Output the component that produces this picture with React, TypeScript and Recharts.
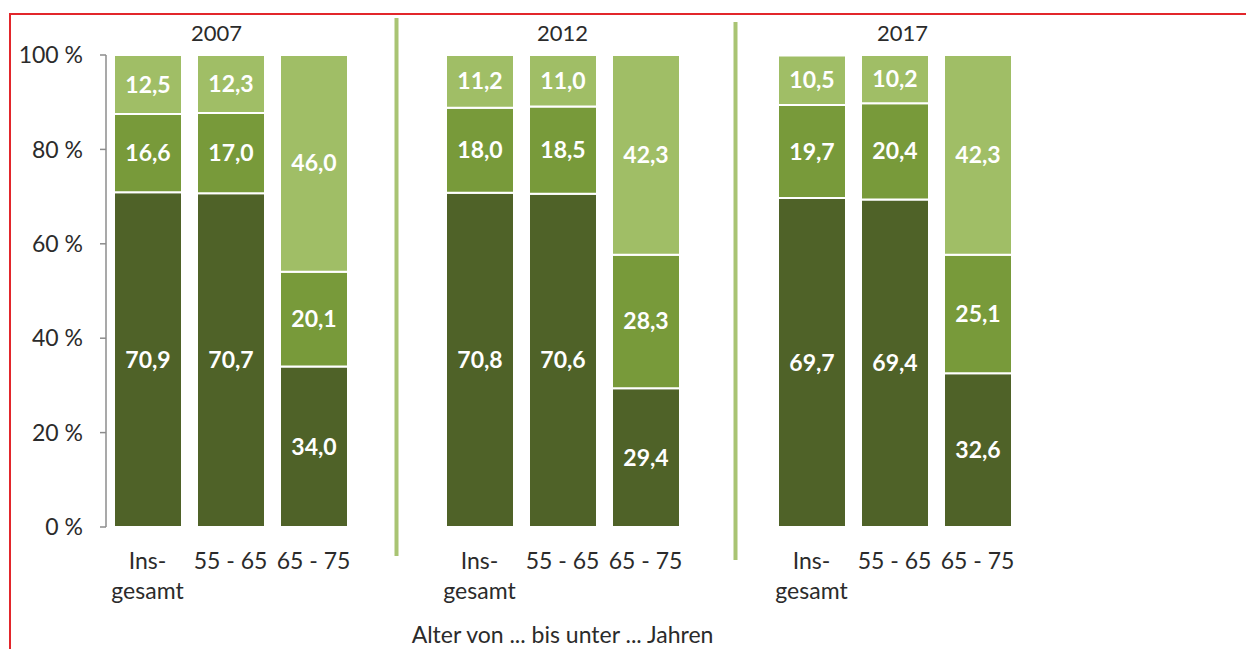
import React from 'react';
import { BarChart, Bar, XAxis, YAxis, LabelList, ReferenceLine } from 'recharts';

const years = ['2007', '2012', '2017'];
const ageGroups = ['Ins-\ngesamt', '55 - 65', '65 - 75'];
// values per year, per age group
const vollzeit = [
  [70.9, 70.7, 34.0],
  [70.8, 70.6, 29.4],
  [69.7, 69.4, 32.6],
];
const teilzeit = [
  [16.6, 17.0, 20.1],
  [18.0, 18.5, 28.3],
  [19.7, 20.4, 25.1],
];
const geringfuegig = [
  [12.5, 12.3, 46.0],
  [11.2, 11.0, 42.3],
  [10.5, 10.2, 42.3],
];
const seriesNames = {
  vollzeit: ['Vollzeit'],
  teilzeit: ['Teilzeit'],
  geringfuegig: ['geringfügige', 'Beschäftigung'],
};
const yTicks = [0, 20, 40, 60, 80, 100];
const xTitle = 'Alter von ... bis unter ... Jahren';

const COLORS = {
  vollzeit: '#4f6228',
  teilzeit: '#789a3a',
  geringfuegig: '#a0be66',
  sep: '#a9c473',
  text: '#2b2b2b',
  axis: '#8c8c8c',
  border: '#e2262b',
};
const FONT = 'Lato, "Open Sans", sans-serif';
const FS = 23;
const yearLabelDx = [-14, 0, 8];

type Row = {
  key: string;
  age: string;
  year: string;
  yearIdx: number;
  vollzeit: number | null;
  teilzeit: number | null;
  geringfuegig: number | null;
};

const rows: Row[] = [];
years.forEach((yr, g) => {
  ageGroups.forEach((age, i) => {
    rows.push({
      key: `${yr}-${i}`,
      age,
      year: i === 1 ? yr : '',
      yearIdx: g,
      vollzeit: vollzeit[g][i],
      teilzeit: teilzeit[g][i],
      geringfuegig: geringfuegig[g][i],
    });
  });
  if (g < years.length - 1) {
    rows.push({ key: `sep-${g}`, age: '', year: '', yearIdx: g, vollzeit: null, teilzeit: null, geringfuegig: null });
  }
});

const fmt = (v: number) => v.toFixed(1).replace('.', ',');

const BottomTick = (props: any) => {
  const { x, y, payload } = props;
  const row = rows.find((r) => r.key === payload.value);
  if (!row || !row.age) return null;
  const lines = row.age.split('\n');
  return (
    <text x={x} y={y + 42} textAnchor="middle" fill={COLORS.text} fontSize={FS} fontFamily={FONT}>
      {lines.map((l, i) => (
        <tspan key={i} x={x} dy={i === 0 ? 0 : 30}>
          {l}
        </tspan>
      ))}
    </text>
  );
};

const TopTick = (props: any) => {
  const { x, y, payload } = props;
  const row = rows.find((r) => r.key === payload.value);
  if (!row || !row.year) return null;
  return (
    <text x={x + yearLabelDx[row.yearIdx]} y={y - 14} textAnchor="middle" fill={COLORS.text} fontSize={22} fontFamily={FONT}>
      {row.year}
    </text>
  );
};

const makeLabel = (seriesKey: keyof typeof seriesNames) => (props: any) => {
  const { x, y, width, height, value, index } = props;
  if (value == null) return null;
  const cx = x + width / 2;
  const cy = y + height / 2;
  const nameLines = seriesNames[seriesKey];
  return (
    <g>
      <text x={cx} y={cy + 8} textAnchor="middle" fill="#fff" fontSize={FS} fontWeight="bold" fontFamily={FONT}>
        {fmt(Number(value))}
      </text>
      {index === rows.length - 1 && (
        <text x={x + width + 20} y={cy + 8 - (nameLines.length > 1 ? 10 : 0)} fill={COLORS.text} fontSize={FS} fontFamily={FONT}>
          {nameLines.map((l, i) => (
            <tspan key={i} x={x + width + 20} dy={i === 0 ? 0 : 31}>
              {l}
            </tspan>
          ))}
        </text>
      )}
    </g>
  );
};

const sepShape = (dx: number, extraTop: number, extraBottom: number) => (props: any) => {
  const { x1, y1, y2 } = props;
  const top = Math.min(y1, y2);
  const bottom = Math.max(y1, y2);
  return (
    <line x1={x1 + dx} x2={x1 + dx} y1={top - extraTop} y2={bottom + extraBottom} stroke={COLORS.sep} strokeWidth={4} />
  );
};

export default function App() {
  return (
    <div style={{ position: 'absolute', left: 0, top: 0, width: 1246, height: 649, background: '#fff', fontFamily: FONT }}>
      <div style={{ position: 'absolute', left: 9, top: 13, right: 0, height: 2, background: COLORS.border }} />
      <div style={{ position: 'absolute', left: 9, top: 13, bottom: 0, width: 2, background: COLORS.border }} />
      <div style={{ position: 'absolute', left: 0, top: 0 }}>
        <BarChart
          width={1246}
          height={649}
          data={rows}
          margin={{ top: 25, right: 227, bottom: 0, left: 0 }}
          barCategoryGap={0}
        >
          <XAxis
            xAxisId="top"
            orientation="top"
            dataKey="key"
            type="category"
            height={30}
            axisLine={false}
            tickLine={false}
            tickSize={0}
            tickMargin={0}
            interval={0}
            tick={<TopTick />}
          />
          <XAxis
            xAxisId="bottom"
            orientation="bottom"
            dataKey="key"
            type="category"
            height={122}
            axisLine={false}
            tickLine={false}
            tickSize={0}
            tickMargin={0}
            interval={0}
            tick={<BottomTick />}
            label={{ value: xTitle, position: 'insideBottom', offset: 6, fill: COLORS.text, fontSize: FS, fontFamily: FONT }}
          />
          <YAxis
            width={106}
            domain={[0, 100]}
            allowDataOverflow
            ticks={yTicks}
            interval={0}
            tickFormatter={(v: number) => `${v} %`}
            axisLine={{ stroke: COLORS.axis, strokeWidth: 1.5 }}
            tickLine={{ stroke: COLORS.axis, strokeWidth: 1.5 }}
            tickSize={6}
            tickMargin={17}
            tick={{ fill: COLORS.text, fontSize: FS, fontFamily: FONT }}
          />
          <ReferenceLine xAxisId="bottom" x="sep-0" shape={sepShape(0, 37, 29)} />
          <ReferenceLine xAxisId="bottom" x="sep-1" shape={sepShape(7, 33, 33)} />
          <Bar xAxisId="bottom" dataKey="vollzeit" stackId="a" fill={COLORS.vollzeit} stroke="#fff" strokeWidth={2} barSize={68} isAnimationActive={false}>
            <LabelList dataKey="vollzeit" content={makeLabel('vollzeit')} />
          </Bar>
          <Bar xAxisId="bottom" dataKey="teilzeit" stackId="a" fill={COLORS.teilzeit} stroke="#fff" strokeWidth={2} barSize={68} isAnimationActive={false}>
            <LabelList dataKey="teilzeit" content={makeLabel('teilzeit')} />
          </Bar>
          <Bar xAxisId="bottom" dataKey="geringfuegig" stackId="a" fill={COLORS.geringfuegig} stroke="#fff" strokeWidth={2} barSize={68} isAnimationActive={false}>
            <LabelList dataKey="geringfuegig" content={makeLabel('geringfuegig')} />
          </Bar>
        </BarChart>
      </div>
    </div>
  );
}
